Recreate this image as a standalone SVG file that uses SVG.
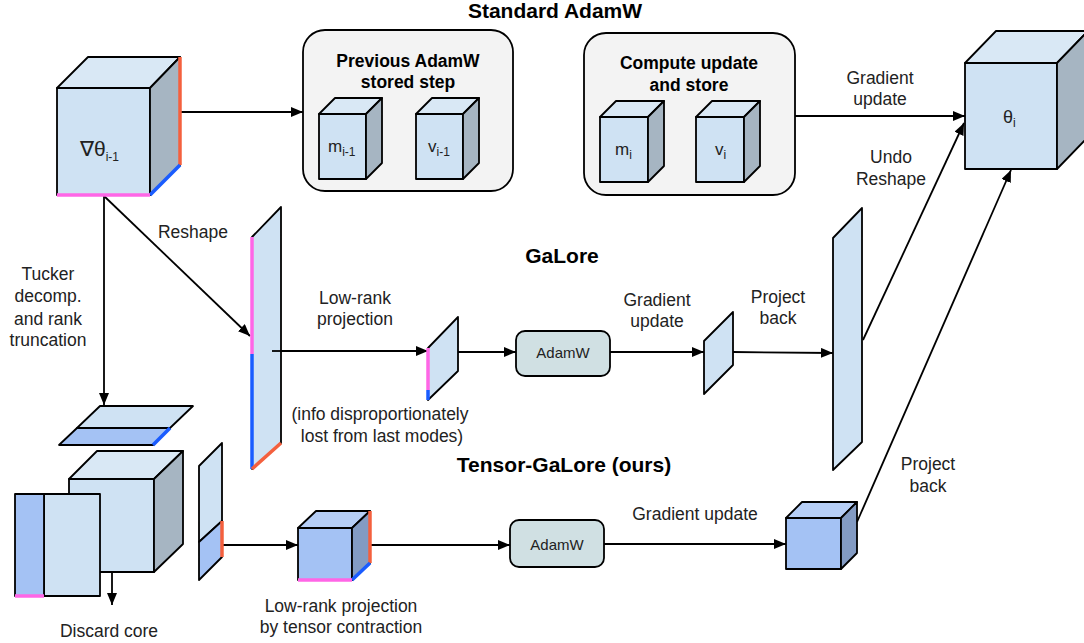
<svg xmlns="http://www.w3.org/2000/svg" width="1084" height="643" viewBox="0 0 1084 643">
<defs>
<marker id="ah" markerUnits="userSpaceOnUse" markerWidth="12" markerHeight="10" refX="12" refY="5" orient="auto">
<path d="M0,0 L12,5 L0,10 z" fill="#000"/>
</marker>
<style>
text{font-family:"Liberation Sans",Arial,sans-serif;fill:#222}
.lbl{font-size:17.5px;text-anchor:middle}
.ttl{font-size:21px;font-weight:bold;text-anchor:middle;fill:#000}
.btl{font-size:17.5px;font-weight:bold;text-anchor:middle;fill:#000}
.sub{font-size:12px}
.f{fill:#cfe2f3;stroke:#000;stroke-width:1.8;stroke-linejoin:round}
.t{fill:#d9e8f5;stroke:#000;stroke-width:1.8;stroke-linejoin:round}
.s{fill:#a6b5c2;stroke:#000;stroke-width:1.8;stroke-linejoin:round}
.f2{fill:#a4c2f4;stroke:#000;stroke-width:1.8;stroke-linejoin:round}
.t2{fill:#b6cef6;stroke:#000;stroke-width:1.8;stroke-linejoin:round}
.s2{fill:#839bc3;stroke:#000;stroke-width:1.8;stroke-linejoin:round}
.box{fill:#f3f3f3;stroke:#000;stroke-width:1.8}
.adam{fill:#d0e0e3;stroke:#000;stroke-width:1.8}
.ln{fill:none;stroke:#000;stroke-width:1.8}
.arr{fill:none;stroke:#000;stroke-width:1.8;marker-end:url(#ah)}
.red{stroke:#f4603e;stroke-width:3.5;fill:none}
.blu{stroke:#1a5cff;stroke-width:3.5;fill:none}
.pnk{stroke:#ff66e6;stroke-width:3.5;fill:none}
</style>
</defs>
<rect width="1084" height="643" fill="#fff"/>

<text class="ttl" x="555" y="18">Standard AdamW</text>
<text class="ttl" x="562" y="263">GaLore</text>
<text class="ttl" x="564" y="472">Tensor-GaLore (ours)</text>

<g id="connectors">
<line class="arr" x1="180" y1="112" x2="303" y2="112"/>
<line class="arr" x1="795" y1="116" x2="965" y2="116"/>
<line class="arr" x1="104" y1="196" x2="250" y2="336"/>
<line class="arr" x1="104" y1="196" x2="104" y2="405"/>
<line class="arr" x1="272" y1="351" x2="428" y2="351"/>
<line class="arr" x1="458" y1="352" x2="516" y2="352"/>
<line class="arr" x1="610" y1="352" x2="704" y2="352"/>
<line class="arr" x1="733" y1="352" x2="833" y2="353"/>
<line class="arr" x1="863" y1="340" x2="964" y2="123"/>
<line class="arr" x1="112" y1="572" x2="112" y2="605"/>
<line class="arr" x1="222" y1="545" x2="298" y2="545"/>
<line class="arr" x1="370" y1="545" x2="510" y2="545"/>
<line class="arr" x1="604" y1="544" x2="786" y2="544"/>
<line class="arr" x1="857" y1="522" x2="1011" y2="170"/>
</g>

<g id="grad-cube">
<rect class="f" x="57" y="88" width="93" height="107"/>
<polygon class="t" points="57,88 88,57 180,57 150,88"/>
<polygon class="s" points="150,88 180,57 180,165 150,195"/>
<line class="red" x1="180" y1="57" x2="180" y2="165"/>
<line class="blu" x1="180" y1="165" x2="150" y2="195"/>
<line class="pnk" x1="57" y1="195" x2="150" y2="195"/>
<text x="80" y="156" style="font-size:21px">∇θ<tspan class="sub" dy="5">i-1</tspan></text>
</g>

<g id="prev-box">
<rect class="box" x="303" y="30" width="210" height="161" rx="22"/>
<text class="btl" x="408" y="67">Previous AdamW</text>
<text class="btl" x="408" y="88">stored step</text>
<rect class="f" x="319" y="114" width="47" height="65"/>
<polygon class="t" points="319,114 335,98 382,98 366,114"/>
<polygon class="s" points="366,114 382,98 382,163 366,179"/>
<text x="328" y="152" style="font-size:17px">m<tspan class="sub" dy="4">i-1</tspan></text>
<rect class="f" x="416" y="114" width="47" height="65"/>
<polygon class="t" points="416,114 432,98 479,98 463,114"/>
<polygon class="s" points="463,114 479,98 479,163 463,179"/>
<text x="428" y="152" style="font-size:17px">v<tspan class="sub" dy="4">i-1</tspan></text>
</g>

<g id="compute-box">
<rect class="box" x="584" y="33" width="211" height="162" rx="22"/>
<text class="btl" x="689" y="69">Compute update</text>
<text class="btl" x="689" y="91">and store</text>
<rect class="f" x="600" y="117" width="48" height="65"/>
<polygon class="t" points="600,117 616,101 664,101 648,117"/>
<polygon class="s" points="648,117 664,101 664,166 648,182"/>
<text x="615" y="155" style="font-size:17px">m<tspan class="sub" dy="4">i</tspan></text>
<rect class="f" x="696" y="117" width="48" height="65"/>
<polygon class="t" points="696,117 712,101 760,101 744,117"/>
<polygon class="s" points="744,117 760,101 760,166 744,182"/>
<text x="715" y="155" style="font-size:17px">v<tspan class="sub" dy="4">i</tspan></text>
</g>

<g id="theta-cube">
<rect class="f" x="965" y="63" width="92" height="106"/>
<polygon class="t" points="965,63 996,31 1088,31 1057,63"/>
<polygon class="s" points="1057,63 1088,31 1088,137 1057,169"/>
<text x="1003" y="123" style="font-size:18px">θ<tspan class="sub" dy="4">i</tspan></text>
</g>

<g id="labels">
<text class="lbl" x="880" y="84">Gradient</text>
<text class="lbl" x="880" y="105">update</text>
<text class="lbl" x="891" y="163">Undo</text>
<text class="lbl" x="891" y="185">Reshape</text>
<text class="lbl" x="193" y="238">Reshape</text>
<text class="lbl" x="48" y="280">Tucker</text>
<text class="lbl" x="48" y="302">decomp.</text>
<text class="lbl" x="48" y="325">and rank</text>
<text class="lbl" x="48" y="346">truncation</text>
<text class="lbl" x="355" y="304">Low-rank</text>
<text class="lbl" x="355" y="325">projection</text>
<text class="lbl" x="380" y="420">(info disproportionately</text>
<text class="lbl" x="382" y="442">lost from last modes)</text>
<text class="lbl" x="657" y="306">Gradient</text>
<text class="lbl" x="657" y="327">update</text>
<text class="lbl" x="778" y="303">Project</text>
<text class="lbl" x="778" y="324">back</text>
<text class="lbl" x="695" y="520">Gradient update</text>
<text class="lbl" x="928" y="470">Project</text>
<text class="lbl" x="928" y="492">back</text>
<text class="lbl" x="341" y="612">Low-rank projection</text>
<text class="lbl" x="341" y="633">by tensor contraction</text>
<text class="lbl" x="109" y="637">Discard core</text>
</g>

<g id="galore-plane-left">
<polygon class="f" points="252,237 281,207 281,443 252,469"/>
<line class="pnk" x1="252" y1="237" x2="252" y2="354"/>
<line class="blu" x1="252" y1="354" x2="252" y2="469"/>
<line class="red" x1="252" y1="469" x2="281" y2="443"/>
</g>
<line class="ln" x1="272" y1="351" x2="290" y2="351"/>

<g id="galore-small">
<polygon class="f" points="428,348 458,317 458,371 428,400"/>
<line class="pnk" x1="428" y1="348" x2="428" y2="390"/>
<line class="blu" x1="428" y1="390" x2="428" y2="400"/>
</g>

<g id="adamw-1">
<rect class="adam" x="516" y="331" width="94" height="45" rx="9"/>
<text x="563" y="358" style="font-size:15px;text-anchor:middle">AdamW</text>
</g>

<g id="galore-small-2">
<polygon class="f" points="704,341 733,312 733,365 704,394"/>
</g>

<g id="galore-plane-right">
<polygon class="f" points="833,238 862,208 862,442 833,470"/>
</g>

<g id="tucker-top">
<polygon class="f" points="77,428 170,428 193,406 100,406"/>
<polygon class="f2" points="59,445 153,445 170,428 77,428"/>
<line class="blu" x1="153" y1="445" x2="170" y2="428"/>
</g>

<g id="core-cube">
<rect class="f" x="69" y="479" width="85" height="93"/>
<polygon class="t" points="69,479 97,451 183,451 154,479"/>
<polygon class="s" points="154,479 183,451 183,544 154,572"/>
</g>

<g id="tucker-left">
<rect class="f" x="44" y="494" width="56" height="102"/>
<rect class="f2" x="15" y="494" width="29" height="102"/>
<line class="pnk" x1="15" y1="596" x2="44" y2="596"/>
</g>

<g id="tucker-right">
<polygon class="f" points="199,466 222,443 222,521 199,542"/>
<polygon class="f2" points="199,542 222,521 222,557 199,580"/>
<line class="red" x1="222" y1="521" x2="222" y2="557"/>
</g>

<g id="core-small">
<rect class="f2" x="298" y="528" width="54" height="52"/>
<polygon class="t2" points="298,528 316,511 370,511 352,528"/>
<polygon class="s2" points="352,528 370,511 370,563 352,580"/>
<line class="red" x1="370" y1="511" x2="370" y2="563"/>
<line class="blu" x1="370" y1="563" x2="352" y2="580"/>
<line class="pnk" x1="298" y1="580" x2="352" y2="580"/>
</g>

<g id="adamw-2">
<rect class="adam" x="510" y="520" width="94" height="47" rx="9"/>
<text x="557" y="550" style="font-size:15px;text-anchor:middle">AdamW</text>
</g>

<g id="core-updated">
<rect class="f2" x="786" y="518" width="55" height="51"/>
<polygon class="t2" points="786,518 802,502 857,502 841,518"/>
<polygon class="s2" points="841,518 857,502 857,553 841,569"/>
</g>
</svg>
